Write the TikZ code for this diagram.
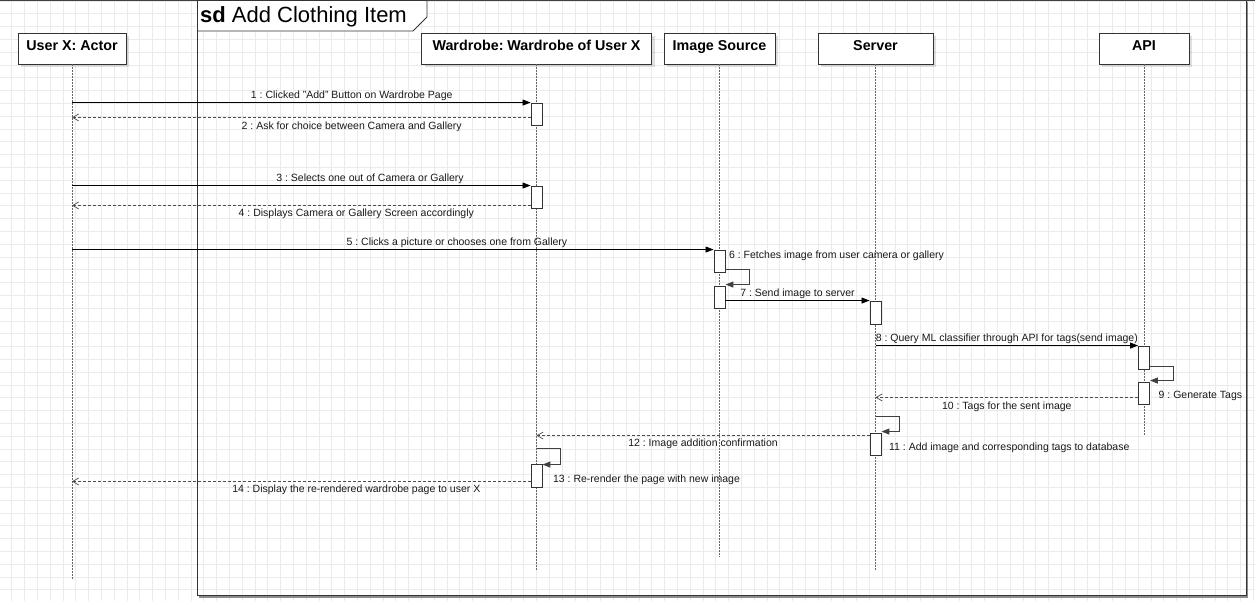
\documentclass[tikz,border=0pt]{standalone}
\usepackage{fontspec}
\setmainfont{Liberation Sans}
\frenchspacing
\usetikzlibrary{positioning,arrows.meta,shadows}
\tikzset{
  sdgrid/.style={draw=black!8, line width=0.7pt},
  sdhead/.style={draw=black!80, fill=white, line width=0.9pt,
    font=\fontsize{14.3}{16}\selectfont\bfseries, minimum height=31pt,
    inner xsep=2pt, inner ysep=3pt, text height=14.5pt, text depth=10.5pt,
    drop shadow={shadow xshift=3pt, shadow yshift=-3pt, fill=black, opacity=0.12}},
  sdlife/.style={draw=black!60, line width=0.9pt, dash pattern=on 1.5pt off 1.5pt},
  sdact/.style={draw=black!80, fill=white, line width=0.9pt, minimum width=11pt,
    minimum height=22pt, inner sep=0pt},
  sdcall/.style={draw=black, line width=0.8pt, -{Triangle[length=8pt,width=6pt]}},
  sdreturn/.style={draw=black!70, line width=0.8pt, dash pattern=on 3pt off 2pt,
    -{Straight Barb[length=6pt,width=7pt,line width=0.7pt]}},
  sdself/.style={sdcall, draw=black!75, line width=1pt},
  sdlabel/.style={font=\fontsize{10.5}{12}\selectfont, inner sep=1.5pt, text=black!90},
}

\begin{document}
\begin{tikzpicture}[x=1pt, y=-1pt]
  \useasboundingbox (0,0) rectangle (1255,601);
  \fill[white] (0,0) rectangle (1255,601);
  \foreach \k in {0,...,98}
    \draw[sdgrid] ({12.8*\k-1},0) -- ({12.8*\k-1},601);
  \foreach \k in {0,...,46}
    \draw[sdgrid] (0,{12.8*\k+1}) -- (1255,{12.8*\k+1});

  \draw[black!45, line width=1.2pt] (1247.8,2) -- (1247.8,597) -- (199,597);
  \draw[black!80, line width=0.9pt] (197.5,0.5) rectangle (1246.5,595.5);
  \draw[black!75, line width=1pt] (0,0.5) -- (1255,0.5);
  \filldraw[draw=black!80, fill=white, line width=0.9pt]
    (197.5,0.5) -- (427,0.5) -- (427,17) -- (413,31) -- (197.5,31) -- cycle;
  \node[anchor=west, inner sep=0pt, font=\fontsize{22}{24}\selectfont] (title) at (200,16.5)
    {\textbf{sd} Add Clothing Item};

  \node[sdhead, minimum width=108pt] (user) at (72,48.5) {User X: Actor};
  \node[sdhead, minimum width=230pt] (wardrobe) at (536.5,48.5) {Wardrobe: Wardrobe of User X};
  \node[sdhead, minimum width=111pt] (imgsrc) at (719.5,48.5) {Image Source};
  \node[sdhead, minimum width=115pt] (server) at (875.5,48.5) {Server};
  \node[sdhead, minimum width=90pt] (api) at (1144,48.5) {API};

  \coordinate (userend) at (72,580);
  \coordinate (wardrobeend) at (536.5,570);
  \coordinate (imgsrcend) at (719.5,557);
  \coordinate (serverend) at (875.5,570);
  \coordinate (apiend) at (1144,436);
  \foreach \l in {user,wardrobe,imgsrc,server,api}
    \draw[sdlife] (\l.south) -- (\l end);

  \node[sdact] (a1) at (536.5,114) {};
  \node[sdact] (a3) at (536.5,197) {};
  \node[sdact] (a5) at (719.5,261) {};
  \node[sdact] (a6) at (719.5,297) {};
  \node[sdact, minimum height=23pt] (a7) at (875.5,312.5) {};
  \node[sdact, minimum height=23pt] (a8) at (1144,357.5) {};
  \node[sdact] (a9) at (1144,393) {};
  \node[sdact] (a11) at (875.5,444) {};
  \node[sdact, minimum height=23pt] (a13) at (536.5,475.5) {};

  \draw[sdcall] (a1.north west -| user) -- node[sdlabel, above=-0.5pt, pos=0.61] (m1)
    {1 : Clicked "Add" Button on Wardrobe Page} (a1.north west);
  \draw[sdreturn] ([yshift=8pt]a1.south west) -- node[sdlabel, below=2.5pt, pos=0.39] (m2)
    {2 : Ask for choice between Camera and Gallery} ([yshift=8pt]a1.south west -| user);
  \draw[sdcall] (a3.north west -| user) -- node[sdlabel, above=-0.5pt, pos=0.65] (m3)
    {3 : Selects one out of Camera or Gallery} (a3.north west);
  \draw[sdreturn] ([yshift=3pt]a3.south west) -- node[sdlabel, below=1.5pt, pos=0.38] (m4)
    {4 : Displays Camera or Gallery Screen accordingly} ([yshift=3pt]a3.south west -| user);
  \draw[sdcall] (a5.north west -| user) -- node[sdlabel, above=-0.5pt, pos=0.6] (m5)
    {5 : Clicks a picture or chooses one from Gallery} (a5.north west);
  \draw[sdself] ([yshift=3pt]a5.south east) -- ++(24,0) |- ([yshift=1pt]a6.north east);
  \node[sdlabel, anchor=west] (m6) at ([xshift=2pt,yshift=5pt]a5.east)
    {6 : Fetches image from user camera or gallery};
  \draw[sdcall] (a7.north west -| a6.east) -- node[sdlabel, above=-0.5pt] (m7)
    {7 : Send image to server} (a7.north west);
  \draw[sdcall] (a8.north west -| server) -- node[sdlabel, above=-0.5pt] (m8)
    {8 : Query ML classifier through API for tags(send image)} (a8.north west);
  \draw[sdself] ([yshift=3pt]a8.south east) -- ++(24,0) |- ([yshift=1pt]a9.north east);
  \node[sdlabel, anchor=west] (m9) at ([xshift=7pt,yshift=-3pt]a9.east) {9 : Generate Tags};
  \draw[sdreturn] ([yshift=7pt]a9.south west) -- node[sdlabel, below=2.5pt] (m10)
    {10 : Tags for the sent image} ([yshift=7pt]a9.south west -| server);
  \draw[sdself] ([yshift=16pt]a11.north -| server) -- ++(24,0) |- ([yshift=1pt]a11.north east);
  \node[sdlabel, anchor=west] (m11) at ([xshift=6pt,yshift=-4pt]a11.east)
    {11 : Add image and corresponding tags to database};
  \draw[sdreturn] ([yshift=-3pt]a11.north west) -- node[sdlabel, below=1.5pt] (m12)
    {12 : Image addition confirmation} ([yshift=-3pt]a11.north west -| wardrobe);
  \draw[sdself] ([yshift=15pt]a13.north) -- ++(24,0) |- ([yshift=-1pt]a13.north east);
  \node[sdlabel, anchor=west] (m13) at ([xshift=9pt,yshift=-4.5pt]a13.east)
    {13 : Re-render the page with new image};
  \draw[sdreturn] ([yshift=6pt]a13.south west) -- node[sdlabel, below=1.5pt, pos=0.38] (m14)
    {14 : Display the re-rendered wardrobe page to user X} ([yshift=6pt]a13.south west -| user);
\end{tikzpicture}
\end{document}
